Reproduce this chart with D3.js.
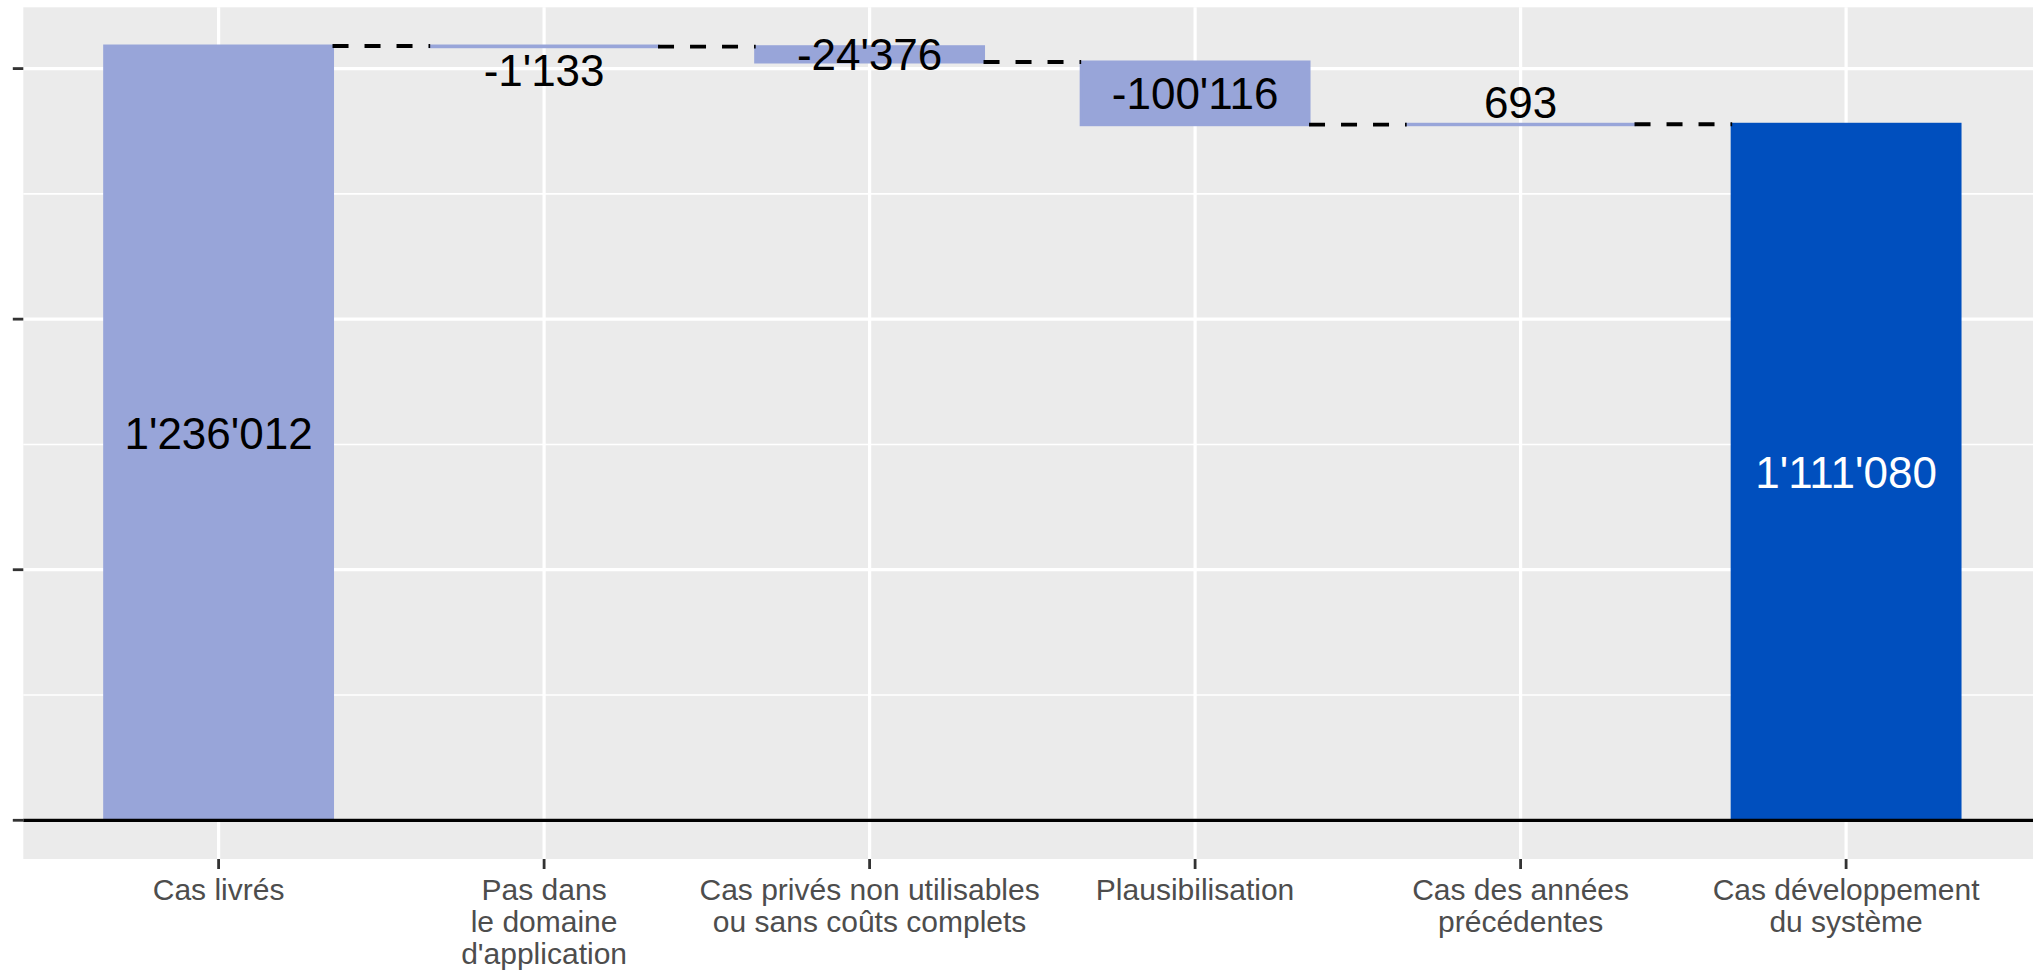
<!DOCTYPE html>
<html>
<head>
<meta charset="utf-8">
<script src="https://cdn.jsdelivr.net/npm/d3@7"></script>
<style>
  html, body { margin: 0; padding: 0; background: #ffffff; }
  svg { display: block; }
  text { font-family: "Liberation Sans", Arial, Helvetica, sans-serif; }
</style>
</head>
<body>
<script>
// ---------- data ----------
const categories = [
  "Cas livrés",
  "Pas dans\nle domaine\nd'application",
  "Cas privés non utilisables\nou sans coûts complets",
  "Plausibilisation",
  "Cas des années\nprécédentes",
  "Cas développement\ndu système"
];
const values = [1236012, -1133, -24376, -100116, 693, 1111080];
const kinds = ["total", "step", "step", "step", "step", "total"];
const yMajorTicks = [0, 400000, 800000, 1200000];
const yMinorTicks = [200000, 600000, 1000000];

// ---------- layout ----------
const W = 2033, H = 970;
const panel = { left: 23.3, right: 2041.4, top: 7.3, bottom: 859 };

const svg = d3.select("body").append("svg")
  .attr("width", W).attr("height", H);

// build waterfall segments
let running = 0;
const segs = values.map((v, i) => {
  let start, end;
  if (kinds[i] === "total") { start = 0; end = v; running = v; }
  else { start = running; end = running + v; running = end; }
  return { i, cat: categories[i], value: v, kind: kinds[i], start, end };
});

const maxVal = d3.max(segs, d => Math.max(d.start, d.end));
const x = d3.scalePoint().domain(d3.range(categories.length))
  .range([panel.left, panel.right]).padding(0.6);
const y = d3.scaleLinear().domain([-0.05 * maxVal, 1.05 * maxVal])
  .range([panel.bottom, panel.top]);

const barW = x.step() * 0.7;
const fmt = d3.formatLocale({ decimal: ".", thousands: "'", grouping: [3], currency: ["", ""], minus: "-" }).format(",d");

const colLight = "#98A5D9", colTotal = "#004FBE";

// panel background
svg.append("rect").attr("x", panel.left).attr("y", panel.top)
  .attr("width", panel.right - panel.left).attr("height", panel.bottom - panel.top)
  .attr("fill", "#EBEBEB");

// minor grid
svg.append("g").selectAll("line").data(yMinorTicks).join("line")
  .attr("x1", panel.left).attr("x2", panel.right)
  .attr("y1", d => y(d)).attr("y2", d => y(d))
  .attr("stroke", "#ffffff").attr("stroke-width", 1.6);
// major grid
svg.append("g").selectAll("line").data(yMajorTicks).join("line")
  .attr("x1", panel.left).attr("x2", panel.right)
  .attr("y1", d => y(d)).attr("y2", d => y(d))
  .attr("stroke", "#ffffff").attr("stroke-width", 3.2);
svg.append("g").selectAll("line").data(d3.range(categories.length)).join("line")
  .attr("x1", d => x(d)).attr("x2", d => x(d))
  .attr("y1", panel.top).attr("y2", panel.bottom)
  .attr("stroke", "#ffffff").attr("stroke-width", 3.2);

// bars
svg.append("g").selectAll("rect").data(segs).join("rect")
  .attr("x", d => x(d.i) - barW / 2)
  .attr("width", barW)
  .attr("y", d => y(Math.max(d.start, d.end)))
  .attr("height", d => Math.abs(y(d.start) - y(d.end)))
  .attr("fill", d => d.kind === "total" && d.i > 0 ? colTotal : colLight)
  .attr("stroke", d => d.kind === "total" && d.i > 0 ? colTotal : colLight)
  .attr("stroke-width", 3);

// connectors
const conns = segs.slice(0, -1).map((d, k) => ({ from: d.i, to: segs[k + 1].i, level: d.end }));
svg.append("g").selectAll("line").data(conns).join("line")
  .attr("x1", d => x(d.from) + barW / 2)
  .attr("x2", d => x(d.to) - barW / 2)
  .attr("y1", d => y(d.level)).attr("y2", d => y(d.level))
  .attr("stroke", "#000").attr("stroke-width", 3.8)
  .attr("stroke-dasharray", "16,16");

// zero line
svg.append("line").attr("x1", panel.left).attr("x2", panel.right)
  .attr("y1", y(0)).attr("y2", y(0))
  .attr("stroke", "#000").attr("stroke-width", 3.3);

// value labels
const fs = 44;
svg.append("g").selectAll("text").data(segs).join("text")
  .attr("x", d => x(d.i))
  .attr("y", d => {
    const mid = (y(d.start) + y(d.end)) / 2;
    const h = Math.abs(y(d.start) - y(d.end));
    let c = mid;
    if (h < 10) c = mid + (d.value < 0 ? 24 : -22.7);
    return c + fs * 0.358;
  })
  .attr("text-anchor", "middle")
  .attr("font-size", fs)
  .attr("fill", d => d.kind === "total" && d.i > 0 ? "#ffffff" : "#000000")
  .text(d => fmt(d.value));

// y axis ticks (no labels)
svg.append("g").selectAll("line").data(yMajorTicks).join("line")
  .attr("x1", panel.left - 10.5).attr("x2", panel.left)
  .attr("y1", d => y(d)).attr("y2", d => y(d))
  .attr("stroke", "#333333").attr("stroke-width", 2.8);

// x axis ticks
svg.append("g").selectAll("line").data(d3.range(categories.length)).join("line")
  .attr("x1", d => x(d)).attr("x2", d => x(d))
  .attr("y1", panel.bottom).attr("y2", panel.bottom + 10)
  .attr("stroke", "#333333").attr("stroke-width", 2.8);

// x axis labels
const lab = svg.append("g").selectAll("text").data(categories).join("text")
  .attr("text-anchor", "middle")
  .attr("font-size", 30)
  .attr("fill", "#4D4D4D");
lab.each(function (d, i) {
  const t = d3.select(this);
  d.split("\n").forEach((line, k) => {
    t.append("tspan").attr("x", x(i)).attr("y", 899.5 + k * 32).text(line);
  });
});
</script>
</body>
</html>
